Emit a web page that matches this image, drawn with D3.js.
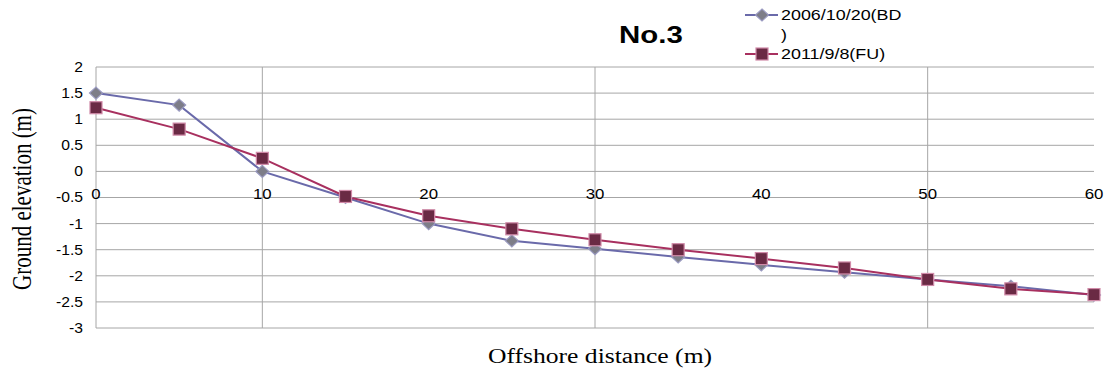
<!DOCTYPE html>
<html>
<head>
<meta charset="utf-8">
<script src="https://cdn.jsdelivr.net/npm/d3@7"></script>
<style>
  body { margin: 0; background: #fff; }
  svg { display: block; }
</style>
</head>
<body>
<svg id="chart" width="1104" height="374"></svg>
<script>
// data
const distance = [0, 5, 10, 15, 20, 25, 30, 35, 40, 45, 50, 55, 60];
const elev2006 = [1.5, 1.27, 0.0, -0.5, -1.0, -1.33, -1.48, -1.64, -1.79, -1.93, -2.07, -2.2, -2.37];
const elev2011 = [1.22, 0.81, 0.25, -0.48, -0.85, -1.1, -1.31, -1.5, -1.67, -1.85, -2.07, -2.25, -2.36];
const seriesNames = ["2006/10/20(BD\n)", "2011/9/8(FU)"];
const xTicks = [0, 10, 20, 30, 40, 50, 60];
const xGrid = [10, 30, 50];
const yTicks = [2, 1.5, 1, 0.5, 0, -0.5, -1, -1.5, -2, -2.5, -3];

const svg = d3.select("#chart");

const padding = { top: 67, right: 10, bottom: 46, left: 96 };

// the original picture is stretched sideways, so text is too
const stretch = 1.28;

var xScale = d3.scaleLinear()
  .domain([0, 60])
  .range([padding.left, 1094]);

var yScale = d3.scaleLinear()
  .domain([-3, 2])
  .range([328, padding.top]);

const gridColor = "#a6a6a6";

// horizontal grid
svg.append("g")
  .selectAll("line")
  .data(yTicks)
  .enter()
  .append("line")
  .attr("x1", xScale(0))
  .attr("x2", xScale(60))
  .attr("y1", d => yScale(d))
  .attr("y2", d => yScale(d))
  .attr("stroke", gridColor)
  .attr("stroke-width", 1);

// vertical grid
svg.append("g")
  .selectAll("line")
  .data(xGrid)
  .enter()
  .append("line")
  .attr("x1", d => xScale(d))
  .attr("x2", d => xScale(d))
  .attr("y1", yScale(2))
  .attr("y2", yScale(-3))
  .attr("stroke", gridColor)
  .attr("stroke-width", 1);

// left axis line
svg.append("line")
  .attr("x1", xScale(0))
  .attr("x2", xScale(0))
  .attr("y1", yScale(2))
  .attr("y2", yScale(-3))
  .attr("stroke", gridColor);

const tickFont = "'Liberation Sans', Arial, sans-serif";

// y tick labels
svg.append("g")
  .selectAll("text")
  .data(yTicks)
  .enter()
  .append("text")
  .attr("transform", d => `translate(83,${yScale(d)}) scale(1.12,1)`)
  .attr("dy", "0.35em")
  .attr("text-anchor", "end")
  .attr("font-family", tickFont)
  .attr("font-size", "14px")
  .attr("fill", "#000")
  .text(d => d);

// x tick labels, crossing at y = 0
svg.append("g")
  .selectAll("text")
  .data(xTicks)
  .enter()
  .append("text")
  .attr("transform", d => `translate(${xScale(d)},${yScale(0) + 28}) scale(1.2,1)`)
  .attr("text-anchor", "middle")
  .attr("font-family", tickFont)
  .attr("font-size", "14px")
  .attr("fill", "#000")
  .text(d => d);

// lines
const series = [
  { values: elev2006, line: "#6a6aaa", marker: "diamond", fill: "#7d7d88", edge: "#9a9ac0" },
  { values: elev2011, line: "#a8305f", marker: "square", fill: "#6a2a44", edge: "#d08aa8" }
];

var line = d3.line()
  .x((d, i) => xScale(distance[i]))
  .y(d => yScale(d));

series.forEach(s => {
  svg.append("path")
    .datum(s.values)
    .attr("fill", "none")
    .attr("stroke", s.line)
    .attr("stroke-width", 2)
    .attr("d", line);
});

function drawMarker(g, type, x, y, fill, edge) {
  if (type === "diamond") {
    g.append("path")
      .attr("d", `M${x},${y - 6}L${x + 6.5},${y}L${x},${y + 6}L${x - 6.5},${y}Z`)
      .attr("fill", fill)
      .attr("stroke", edge)
      .attr("stroke-width", 1.2);
  } else {
    g.append("rect")
      .attr("x", x - 6)
      .attr("y", y - 6)
      .attr("width", 12)
      .attr("height", 12)
      .attr("fill", fill)
      .attr("stroke", edge)
      .attr("stroke-width", 1.2);
  }
}

series.forEach(s => {
  var g = svg.append("g");
  s.values.forEach((v, i) => {
    drawMarker(g, s.marker, xScale(distance[i]), yScale(v), s.fill, s.edge);
  });
});

// title
svg.append("text")
  .attr("transform", `translate(651,43) scale(${stretch},1)`)
  .attr("text-anchor", "middle")
  .attr("font-family", "'Liberation Sans', Arial, sans-serif")
  .attr("font-weight", "bold")
  .attr("font-size", "23px")
  .text("No.3");

// legend
const legendY = [15, 54];
series.forEach((s, i) => {
  var g = svg.append("g");
  g.append("line")
    .attr("x1", 745)
    .attr("x2", 778)
    .attr("y1", legendY[i])
    .attr("y2", legendY[i])
    .attr("stroke", s.line)
    .attr("stroke-width", 2);
  drawMarker(g, s.marker, 762, legendY[i], s.fill, s.edge);
  var lines = seriesNames[i].split("\n");
  lines.forEach((t, j) => {
    g.append("text")
      .attr("transform", `translate(781,${legendY[i] + j * 20}) scale(${stretch},1)`)
      .attr("dy", "0.35em")
      .attr("font-family", tickFont)
      .attr("font-size", "14px")
      .text(t);
  });
});

// axis titles
svg.append("text")
  .attr("transform", `translate(22,199) scale(${stretch},1) rotate(-90)`)
  .attr("dy", "0.35em")
  .attr("text-anchor", "middle")
  .attr("font-family", "'Liberation Serif', 'Times New Roman', serif")
  .attr("font-size", "21px")
  .text("Ground elevation (m)");

svg.append("text")
  .attr("transform", `translate(600,363) scale(${stretch},1)`)
  .attr("text-anchor", "middle")
  .attr("font-family", "'Liberation Serif', 'Times New Roman', serif")
  .attr("font-size", "20px")
  .text("Offshore distance (m)");
</script>
</body>
</html>
